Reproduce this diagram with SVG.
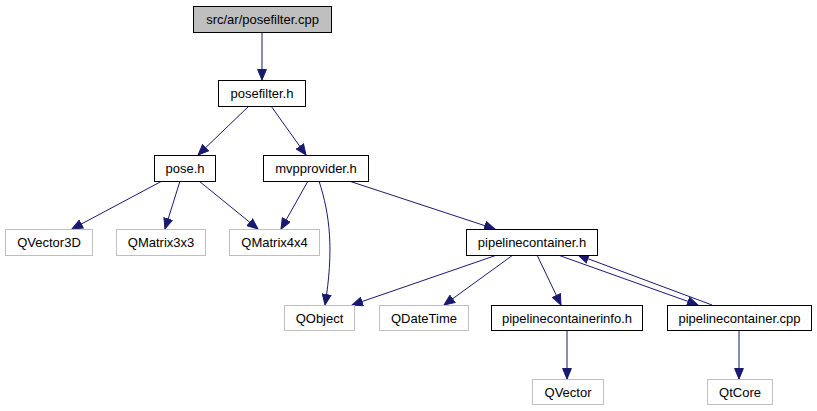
<svg xmlns="http://www.w3.org/2000/svg" width="817" height="411" viewBox="0 0 817 411">
<style>
.n rect{fill:#fff;stroke:#000;stroke-width:1}
.n.root rect{fill:#bfbfbf}
.n.ext rect{stroke:#bfbfbf}
.n text{font-family:"Liberation Sans",Arial,sans-serif;font-size:13px;text-anchor:middle;fill:#000}
#edges path{fill:none;stroke:#191970;stroke-width:1;marker-end:url(#ah)}
</style>
<defs>
<marker id="ah" markerUnits="userSpaceOnUse" markerWidth="12" markerHeight="10" refX="11" refY="5" orient="auto" viewBox="0 0 12 10">
<path d="M0.5,0.6 L11,5 L0.5,9.4 z" fill="#191970" stroke="#191970" stroke-width="1"/>
</marker>
</defs>
<rect width="817" height="411" fill="#fff"/>
<g id="edges">
<path d="M262,32 L262,80"/>
<path d="M249,106 L198,155"/>
<path d="M271,106 L306,155"/>
<path d="M162,181 L72,229"/>
<path d="M180,181 L165,229"/>
<path d="M199,181 L258,229"/>
<path d="M308,181 L281,229"/>
<path d="M319,181 C330,215 334,250 325,305"/>
<path d="M349,181 L495,229"/>
<path d="M497,255 L352,305"/>
<path d="M513,255 L444,305"/>
<path d="M537,255 L561,305"/>
<path d="M558,255 L698,305"/>
<path d="M712,305 L578,255"/>
<path d="M567,330 L567,379"/>
<path d="M739,330 L739,379"/>
</g>
<g id="n_root" class="n root"><rect x="193.5" y="6.5" width="138" height="26"/><text x="262.5" y="24">src/ar/posefilter.cpp</text></g>
<g id="n_posefilter_h" class="n"><rect x="218.5" y="80.5" width="87" height="26"/><text x="262" y="98">posefilter.h</text></g>
<g id="n_pose_h" class="n"><rect x="154.5" y="155.5" width="61" height="26"/><text x="185" y="173">pose.h</text></g>
<g id="n_mvpprovider_h" class="n"><rect x="263.5" y="155.5" width="105" height="26"/><text x="316" y="173">mvpprovider.h</text></g>
<g id="n_QVector3D" class="n ext"><rect x="5.5" y="229.5" width="87" height="26"/><text x="49" y="247">QVector3D</text></g>
<g id="n_QMatrix3x3" class="n ext"><rect x="116.5" y="229.5" width="89" height="26"/><text x="161" y="247">QMatrix3x3</text></g>
<g id="n_QMatrix4x4" class="n ext"><rect x="229.5" y="229.5" width="90" height="26"/><text x="274.5" y="247">QMatrix4x4</text></g>
<g id="n_pipelinecontainer_h" class="n"><rect x="466.5" y="229.5" width="131" height="26"/><text x="532" y="247">pipelinecontainer.h</text></g>
<g id="n_QObject" class="n ext"><rect x="284.5" y="305.5" width="70" height="25"/><text x="319.5" y="322.5">QObject</text></g>
<g id="n_QDateTime" class="n ext"><rect x="379.5" y="305.5" width="89" height="25"/><text x="424" y="322.5">QDateTime</text></g>
<g id="n_pipelinecontainerinfo_h" class="n"><rect x="491.5" y="305.5" width="151" height="25"/><text x="567" y="322.5">pipelinecontainerinfo.h</text></g>
<g id="n_pipelinecontainer_cpp" class="n"><rect x="667.5" y="305.5" width="144" height="25"/><text x="739.5" y="322.5">pipelinecontainer.cpp</text></g>
<g id="n_QVector" class="n ext"><rect x="532.5" y="379.5" width="71" height="25"/><text x="568" y="396.5">QVector</text></g>
<g id="n_QtCore" class="n ext"><rect x="707.5" y="379.5" width="65" height="25"/><text x="740" y="396.5">QtCore</text></g>
</svg>
